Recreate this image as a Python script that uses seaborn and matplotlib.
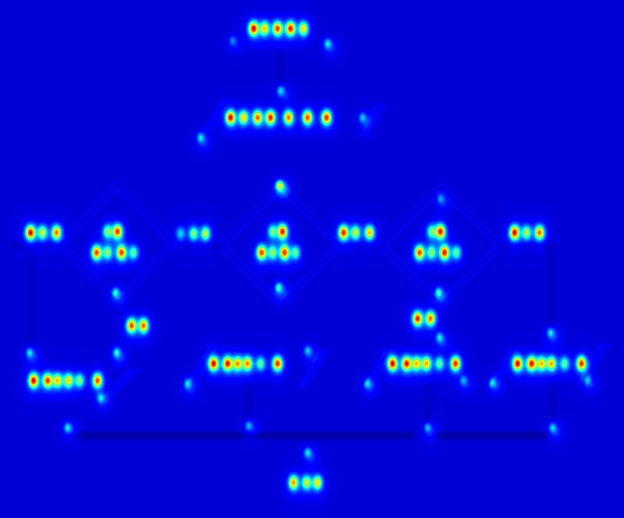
import numpy as np
import matplotlib
matplotlib.use("Agg")
import matplotlib.pyplot as plt
import seaborn as sns

# canvas size of the attention map (pixels)
W, H = 624, 518
background = 0.078

# hot spots on each text line: y of the line, x of each blob, peak value
line_y = [28, 117, 232, 231, 252, 233, 231, 252, 232, 231, 252, 232, 325, 318,
          380, 363, 363, 363, 482]
line_x = [
    [253, 264, 277, 290, 303],
    [230, 243, 257, 270, 288, 307, 326],
    [30, 42, 56],
    [107, 117],
    [96, 107, 121, 133],
    [180, 193, 205],
    [272, 282],
    [261, 272, 284, 295],
    [343, 355, 369],
    [431, 440],
    [419, 431, 444, 456],
    [514, 526, 539],
    [131, 143],
    [417, 430],
    [33, 47, 57, 68, 79, 97],
    [213, 227, 237, 247, 260, 277],
    [392, 406, 416, 426, 439, 455],
    [517, 531, 541, 551, 564, 581],
    [293, 306, 317],
]
line_val = [
    [1.0, 0.7, 0.9, 0.95, 0.7],
    [1.0, 0.7, 0.85, 0.95, 0.85, 0.9, 0.95],
    [1.0, 0.6, 0.85],
    [0.5, 0.92],
    [0.9, 0.5, 0.9, 0.45],
    [0.3, 0.5, 0.6],
    [0.45, 0.95],
    [0.9, 0.5, 0.9, 0.45],
    [0.95, 0.6, 0.75],
    [0.45, 0.95],
    [0.9, 0.5, 0.95, 0.45],
    [1.0, 0.55, 0.85],
    [0.9, 0.85],
    [0.95, 0.85],
    [1.0, 0.9, 0.7, 0.7, 0.5, 0.9],
    [1.0, 0.95, 0.75, 0.8, 0.45, 0.95],
    [1.0, 0.95, 0.7, 0.75, 0.45, 0.95],
    [1.0, 0.95, 0.7, 0.75, 0.45, 0.95],
    [0.8, 0.6, 0.7],
]

# faint cyan patches (arrow heads, shape corners)
patch_x = [200, 327, 232, 280, 280, 362, 278, 115, 278, 438, 440, 29, 116, 67,
           100, 187, 248, 307, 307, 439, 550, 427, 552, 367, 492, 587, 463]
patch_y = [137, 43, 40, 90, 185, 117, 287, 292, 185, 292, 198, 352, 352, 427,
           397, 383, 425, 350, 452, 337, 332, 427, 427, 383, 382, 380, 380]
patch_val = [0.4, 0.4, 0.25, 0.4, 0.45, 0.35, 0.5, 0.45, 0.4, 0.5, 0.3, 0.4,
             0.45, 0.4, 0.35, 0.4, 0.35, 0.35, 0.4, 0.4, 0.4, 0.35, 0.4, 0.35,
             0.35, 0.3, 0.3]

# slanted streaks on the parallelogram sides: x0, y0, x1, y1
streak_segs = [(205, 130, 222, 100), (360, 135, 377, 105),
               (100, 400, 130, 370), (190, 380, 210, 345), (300, 385, 320, 350),
               (365, 385, 385, 350), (490, 385, 510, 350), (580, 380, 600, 345)]

# darker connector shadows: x0, y0, x1, y1
shadow_segs = [(70, 435, 410, 435), (438, 435, 545, 435),
               (15, 245, 60, 245), (185, 245, 215, 245),
               (340, 245, 372, 245), (505, 245, 550, 245),
               (30, 250, 30, 345), (550, 250, 550, 325),
               (280, 55, 280, 100), (248, 385, 248, 430),
               (427, 385, 427, 430), (552, 385, 552, 430)]
shadow_depth = [0.045, 0.045, 0.025, 0.025, 0.025, 0.025,
                0.02, 0.02, 0.02, 0.02, 0.02, 0.02]

# diamond outlines: centre x, centre y, half width, half height
diamond_cx = [117, 280, 440]
diamond_cy = [243, 245, 245]
diamond_hw = [52, 55, 55]
diamond_hh = [55, 55, 55]


def blob(x, y, sx, sy):
    return np.exp(-((xx - x) ** 2 / (2 * sx ** 2) + (yy - y) ** 2 / (2 * sy ** 2)))


def seg_dist(x0, y0, x1, y1):
    vx, vy = x1 - x0, y1 - y0
    t = np.clip(((xx - x0) * vx + (yy - y0) * vy) / (vx * vx + vy * vy), 0, 1)
    return np.hypot(xx - (x0 + t * vx), yy - (y0 + t * vy))


yy, xx = np.mgrid[0:H, 0:W].astype(float)
grid = np.full((H, W), background)

for y, xs, vs in zip(line_y, line_x, line_val):
    for x, v in zip(xs, vs):
        grid += 0.74 * v * blob(x, y, 3.1, 4.6)
        grid += 0.12 * v * blob(x, y + 2, 6, 9)

for x, y, v in zip(patch_x, patch_y, patch_val):
    grid += 0.55 * v * blob(x, y, 2.4, 3.4)
    grid += 0.25 * v * blob(x + 3, y + 4, 5, 6)

for x0, y0, x1, y1 in streak_segs:
    grid += 0.04 * np.exp(-seg_dist(x0, y0, x1, y1) ** 2 / (2 * 1.5 ** 2))
    grid += 0.03 * np.exp(-seg_dist(x0 + 6, y0, x1 + 6, y1) ** 2 / (2 * 1.5 ** 2))

for (x0, y0, x1, y1), dep in zip(shadow_segs, shadow_depth):
    grid -= dep * np.exp(-seg_dist(x0, y0, x1, y1) ** 2 / (2 * 3.0 ** 2))

for cx, cy, hw, hh in zip(diamond_cx, diamond_cy, diamond_hw, diamond_hh):
    d = np.abs(xx - cx) / hw + np.abs(yy - cy) / hh
    grid += 0.035 * np.exp(-((d - 1.0) ** 2) / (2 * 0.015 ** 2))
    grid += 0.025 * np.exp(-((d - 1.15) ** 2) / (2 * 0.015 ** 2))

grid = np.clip(grid, 0, 1)

fig = plt.figure(figsize=(6.24, 5.18), dpi=100)
ax = fig.add_axes([0, 0, 1, 1])
sns.heatmap(grid, cmap="jet", vmin=0, vmax=1, cbar=False,
            xticklabels=False, yticklabels=False, ax=ax, rasterized=True)
ax.set_axis_off()
fig.savefig("out.png", dpi=100)
